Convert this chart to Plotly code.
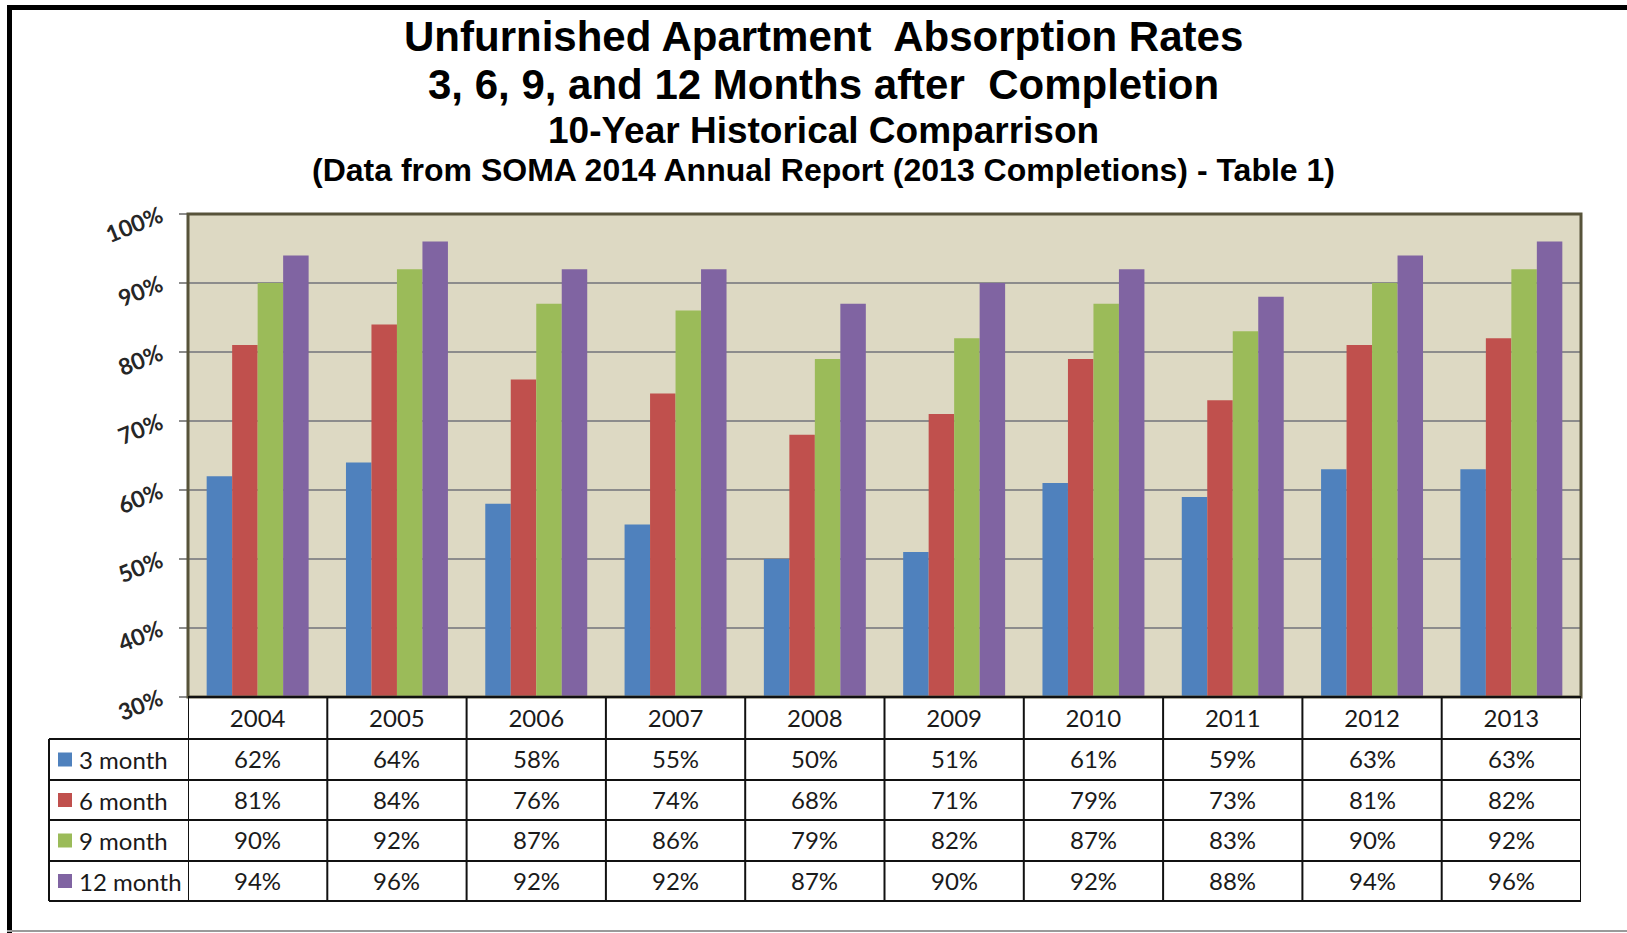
import plotly.graph_objects as go

# ---------------- data ----------------
years = ["2004", "2005", "2006", "2007", "2008", "2009", "2010", "2011", "2012", "2013"]
month3 = [62, 64, 58, 55, 50, 51, 61, 59, 63, 63]
month6 = [81, 84, 76, 74, 68, 71, 79, 73, 81, 82]
month9 = [90, 92, 87, 86, 79, 82, 87, 83, 90, 92]
month12 = [94, 96, 92, 92, 87, 90, 92, 88, 94, 96]
series_names = ["3 month", "6 month", "9 month", "12 month"]
y_ticks = [30, 40, 50, 60, 70, 80, 90, 100]
title_lines = [
    "Unfurnished Apartment  Absorption Rates",
    "3, 6, 9, and 12 Months after  Completion",
    "10-Year Historical Comparrison",
    "(Data from SOMA 2014 Annual Report (2013 Completions) - Table 1)",
]

# ---------------- styles ----------------
colors = ["#4F81BD", "#C0504D", "#9BBB59", "#8064A2"]
W, H = 1627, 933
L, R, T, B = 188, 46, 214, 236
PW, PH = W - L - R, H - T - B


def px(x):
    return (x - L) / PW


def py(y):
    return (H - B - y) / PH


series = [month3, month6, month9, month12]

fig = go.Figure()
for name, vals, col in zip(series_names, series, colors):
    fig.add_trace(go.Bar(x=years, y=vals, name=name, marker=dict(color=col, line=dict(width=0)),
                         showlegend=False))

shapes = []
annotations = []

# outer frame
shapes.append(dict(type="rect", xref="paper", yref="paper", x0=px(7), x1=px(W), y0=py(5), y1=py(10),
                   fillcolor="#000", line=dict(width=0), layer="above"))
shapes.append(dict(type="rect", xref="paper", yref="paper", x0=px(7), x1=px(12), y0=py(5), y1=py(H),
                   fillcolor="#000", line=dict(width=0), layer="above"))
shapes.append(dict(type="rect", xref="paper", yref="paper", x0=px(7), x1=px(W), y0=py(930), y1=py(932),
                   fillcolor="#9A9A9A", line=dict(width=0), layer="above"))

# plot border
shapes.append(dict(type="rect", xref="paper", yref="paper", x0=0, x1=1, y0=0, y1=1,
                   line=dict(color="#57533A", width=3), layer="above"))

# data table
rows = [697, 739, 780, 820, 861, 901]
lab_left = 49
n = len(years)
tbl_line = dict(color="#111", width=2)
shapes.append(dict(type="line", xref="x", yref="paper", x0=-0.5, x1=n - 0.5,
                   y0=py(rows[0]), y1=py(rows[0]), line=tbl_line))
for r in rows[1:]:
    shapes.append(dict(type="line", xref="paper", yref="paper", x0=px(lab_left), x1=1,
                       y0=py(r), y1=py(r), line=tbl_line))
shapes.append(dict(type="line", xref="paper", yref="paper", x0=px(lab_left), x1=px(lab_left),
                   y0=py(rows[1]), y1=py(rows[-1]), line=tbl_line))
for k in range(n + 1):
    shapes.append(dict(type="line", xref="x", yref="paper", x0=k - 0.5, x1=k - 0.5,
                       y0=py(rows[0]), y1=py(rows[-1]), line=tbl_line))

tfont = dict(family="Lato", size=24, color="#1a1a1a")
for j, (name, vals, col) in enumerate(zip(series_names, series, colors)):
    yc = (rows[j + 1] + rows[j + 2]) / 2
    shapes.append(dict(type="rect", xref="paper", yref="paper", x0=px(58), x1=px(72),
                       y0=py(yc + 7), y1=py(yc - 7), fillcolor=col, line=dict(width=0)))
    annotations.append(dict(xref="paper", yref="paper", x=px(77), y=py(yc), text=name,
                            showarrow=False, xanchor="left", yanchor="middle", font=tfont))
    for i, v in enumerate(vals):
        annotations.append(dict(xref="x", yref="paper", x=i, y=py(yc - 1), text=f"{v}%",
                                showarrow=False, xanchor="center", yanchor="middle", font=tfont))

# titles
tx = px(823)
title_specs = [(title_lines[0], 36, 42), (title_lines[1], 84, 42), (title_lines[2], 131, 37),
               (title_lines[3], 170, 32)]
for txt, yc, sz in title_specs:
    annotations.append(dict(xref="paper", yref="paper", x=tx, y=py(yc), text=txt, showarrow=False,
                            xanchor="center", yanchor="middle",
                            font=dict(family="Liberation Sans", size=sz, color="#000", weight="bold")))

fig.update_layout(
    width=W, height=H,
    margin=dict(l=L, r=R, t=T, b=B, pad=0),
    paper_bgcolor="white",
    plot_bgcolor="#DDD9C3",
    barmode="group",
    bargap=0.268,
    bargroupgap=0,
    showlegend=False,
    shapes=shapes,
    annotations=annotations,
    xaxis=dict(type="category", range=[-0.5, n - 0.5], showgrid=False, ticks="", showline=False,
               zeroline=False, tickfont=dict(family="Lato", size=24, color="#1a1a1a"),
               ticklabelstandoff=5),
    yaxis=dict(range=[30, 100], tickvals=y_ticks, ticktext=[f"{v}%" for v in y_ticks],
               showgrid=True, gridcolor="#8C8C8C", gridwidth=2, zeroline=False,
               ticks="outside", ticklen=8, tickwidth=2, tickcolor="#8C8C8C",
               tickangle=-22, ticklabelstandoff=14,
               tickfont=dict(family="Lato", size=23, color="#262626", weight="bold")),
)

fig.write_html("out.html", config={"displayModeBar": False},
               post_script="document.body.style.margin='0';document.body.style.overflow='hidden';")
